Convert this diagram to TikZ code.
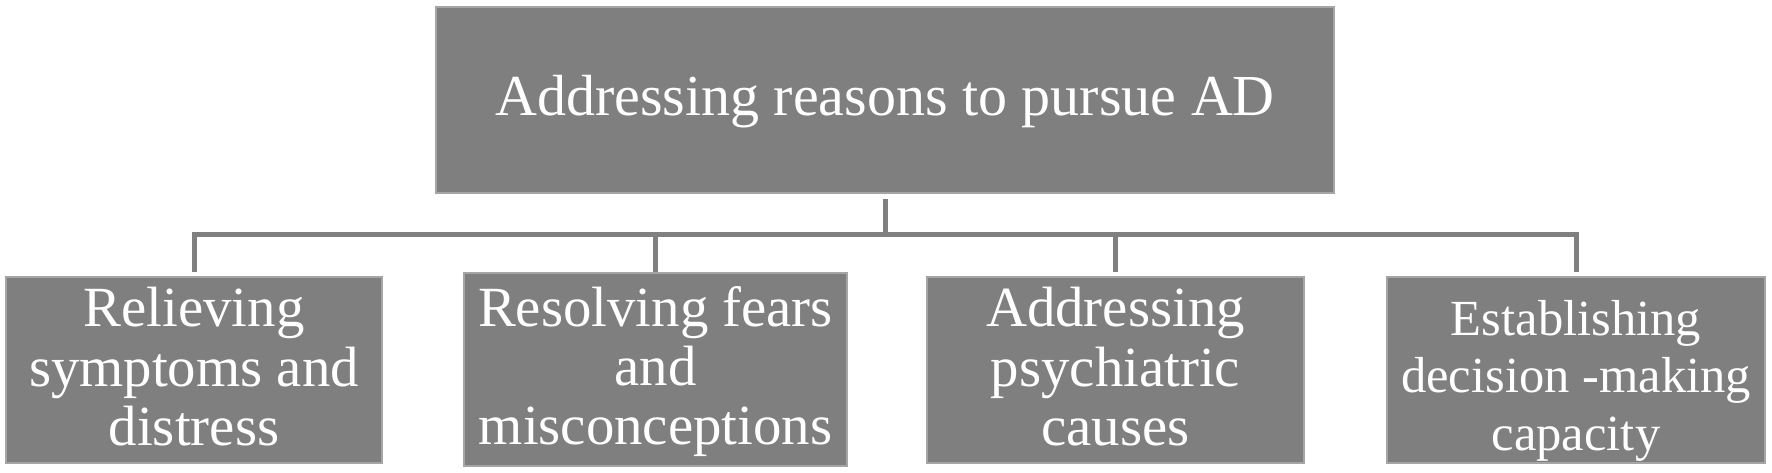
\documentclass[tikz,border=0pt]{standalone}
\usepackage{fontspec}
\setmainfont{Liberation Serif}
\definecolor{boxfill}{RGB}{127,127,127}
\definecolor{boxedge}{RGB}{165,165,165}
\definecolor{conncol}{RGB}{128,128,128}
\tikzset{
  box/.style={rectangle, fill=boxfill, draw=boxedge, line width=0.6pt,
    inner sep=0pt, align=center, text=white, text depth=0pt},
  topbox/.style={box, font={\fontsize{29pt}{33pt}\selectfont}, text height=15pt},
  lowbox/.style={box, font={\fontsize{28.4pt}{29.65pt}\selectfont}, text height=75.3pt},
  lowboxb/.style={box, font={\fontsize{25.3pt}{28.85pt}\selectfont}, text height=80.4pt},
  conn/.style={draw=conncol, line width=2.5pt, line join=miter}
}
\begin{document}
\begin{tikzpicture}[x=0.5pt,y=-0.5pt]
\useasboundingbox (0,0) rectangle (1772,472);
\node[topbox, minimum width=449pt, minimum height=93pt] (top) at (885,100) {Addressing reasons to pursue AD};
\node[lowbox, minimum width=188pt, minimum height=93pt] (b1) at (194,370) {Relieving\\symptoms and\\distress};
\node[lowbox, minimum width=191.5pt, minimum height=96.5pt] (b2) at (655.5,369.5) {Resolving fears\\and\\misconceptions};
\node[lowbox, minimum width=188.5pt, minimum height=93pt] (b3) at (1115.5,370) {Addressing\\psychiatric\\causes};
\node[lowboxb, minimum width=189pt, minimum height=93pt] (b4) at (1576,370) {Establishing\\decision -making\\capacity};
\coordinate (bus) at (885,234.5);
\draw[conn] ([yshift=-2.5pt]top.south) -- (top.south |- bus);
\draw[conn] ([yshift=2pt]b1.north) -- (b1.north |- bus) -- (b4.north |- bus) -- ([yshift=2pt]b4.north);
\draw[conn] (b2.north |- bus) -- (b2.north);
\draw[conn] (b3.north |- bus) -- ([yshift=2pt]b3.north);
\end{tikzpicture}
\end{document}
